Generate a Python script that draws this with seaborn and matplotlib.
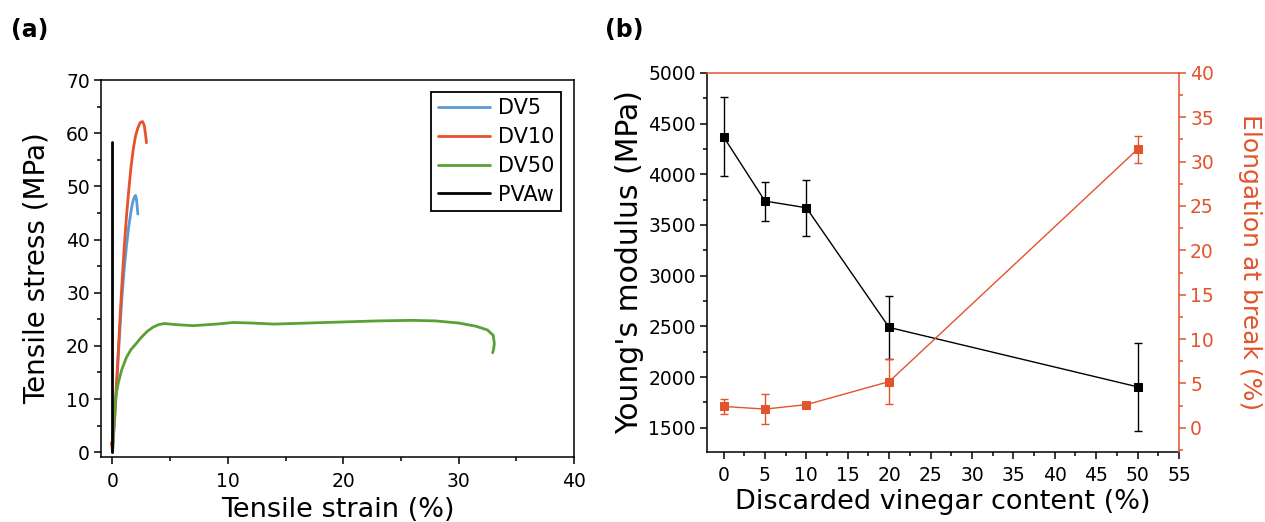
import numpy as np
import pandas as pd
import seaborn as sns
import matplotlib.pyplot as plt
from matplotlib.ticker import MultipleLocator

# ---------------- data: panel (a) stress-strain curves ----------------
dv5_strain = [0, 0.2, 0.4, 0.6, 0.8, 1.0, 1.2, 1.4, 1.6, 1.75, 1.9, 2.0, 2.08, 2.14, 2.2]
dv5_stress = [0, 6.5, 14, 21.5, 28.5, 34, 38.5, 42.3, 45.2, 47, 48, 48.3, 47.6, 46.2, 44.8]

dv10_strain = [-0.1, 0.0, 0.2, 0.4, 0.6, 0.8, 1.0, 1.2, 1.4, 1.6, 1.8, 2.0, 2.2, 2.4, 2.6, 2.75, 2.85, 2.95]
dv10_stress = [1.8, 0.3, 7, 15, 23, 31, 38, 44, 49, 53.5, 57, 59.5, 61, 62, 62.2, 61.5, 60, 58.2]

dv50_strain = [0, 0.1, 0.25, 0.5, 0.8, 1.2, 1.6, 2.0, 2.5, 3.0, 3.5, 4.0, 4.5, 5.5, 7, 9,
               10.5, 12, 14, 17, 20, 23, 26, 28, 30, 31.5, 32.5, 33.0, 33.1, 33.05, 32.95]
dv50_stress = [0, 5, 10, 13, 15.5, 17.8, 19.3, 20.3, 21.6, 22.7, 23.5, 24.0, 24.2, 24.0, 23.8, 24.1,
               24.4, 24.3, 24.1, 24.3, 24.5, 24.7, 24.8, 24.7, 24.3, 23.7, 23.0, 22.0, 20.5, 19.5, 18.7]

pvaw_strain = [0, 0]
pvaw_stress = [0, 58.3]

samples = ["DV5", "DV10", "DV50", "PVAw"]
colors = ["#5B9BD5", "#E4532B", "#5BA035", "#000000"]

# ---------------- data: panel (b) modulus / elongation ----------------
vinegar = [0, 5, 10, 20, 50]
modulus = [4370, 3736, 3670, 2489, 1903]
modulus_err = [390, 193, 277, 310, 435]
elongation = [2.4, 2.1, 2.6, 5.2, 31.4]
elongation_err = [0.8, 1.7, 0.3, 2.5, 1.5]

red = "#E2542C"

sns.set_theme(style="ticks")
plt.rcParams['font.family'] = ['DejaVu Sans']
for key in ['axes.edgecolor', 'xtick.color', 'ytick.color', 'text.color', 'axes.labelcolor']:
    plt.rcParams[key] = 'black'

fig = plt.figure(figsize=(12.65, 5.22), dpi=100)
axA = fig.add_axes([0.0798, 0.1245, 0.3739, 0.7222])
axB = fig.add_axes([0.5589, 0.1341, 0.3731, 0.7261])

# ---------- panel (a) ----------
frames = []
for name, sx, sy in zip(samples,
                        [dv5_strain, dv10_strain, dv50_strain, pvaw_strain],
                        [dv5_stress, dv10_stress, dv50_stress, pvaw_stress]):
    frames.append(pd.DataFrame({"strain": sx, "stress": sy, "sample": name}))
dfA = pd.concat(frames, ignore_index=True)

sns.lineplot(data=dfA, x="strain", y="stress", hue="sample", hue_order=samples,
             palette=dict(zip(samples, colors)), sort=False, estimator=None,
             linewidth=2.0, ax=axA)

axA.set_xlim(-1, 40)
axA.set_ylim(-0.9, 70)
axA.xaxis.set_major_locator(MultipleLocator(10))
axA.xaxis.set_minor_locator(MultipleLocator(5))
axA.yaxis.set_major_locator(MultipleLocator(10))
axA.yaxis.set_minor_locator(MultipleLocator(5))
axA.tick_params(which='major', direction='out', length=5, width=1.1, labelsize=13.5, pad=3)
axA.tick_params(axis='x', which='major', pad=6)
axA.tick_params(which='minor', direction='out', length=3, width=1.1)
for s in axA.spines.values():
    s.set_linewidth(1.1)
    s.set_color('black')
axA.set_xlabel("Tensile strain (%)", fontsize=19.5, labelpad=4)
axA.set_ylabel("Tensile stress (MPa)", fontsize=20, labelpad=11)

h, l = axA.get_legend_handles_labels()
leg = axA.legend(h, l, loc='upper right', bbox_to_anchor=(0.972, 0.968), fontsize=15,
                 frameon=True, fancybox=False, edgecolor='black', framealpha=1,
                 handlelength=2.5, labelspacing=0.42, borderpad=0.3, handletextpad=0.4,
                 borderaxespad=0)
leg.get_frame().set_linewidth(1.3)
for line in leg.get_lines():
    line.set_linewidth(2.0)

# ---------- panel (b) ----------
sns.lineplot(x=vinegar, y=modulus, ax=axB, color='black', marker='s', markersize=6,
             markeredgecolor='black', linewidth=1.0, zorder=3)
axB.errorbar(vinegar, modulus, yerr=modulus_err, fmt='none', ecolor='black',
             elinewidth=1.0, capsize=3, capthick=1.0, zorder=2)
axB.set_xlim(-2, 55)
axB.set_ylim(1260, 5000)
axB.xaxis.set_major_locator(MultipleLocator(5))
axB.xaxis.set_minor_locator(MultipleLocator(2.5))
axB.yaxis.set_major_locator(MultipleLocator(500))
axB.yaxis.set_minor_locator(MultipleLocator(250))
axB.tick_params(which='major', direction='out', length=5, width=1.1, labelsize=13.5, pad=3)
axB.tick_params(axis='x', which='major', pad=5)
axB.tick_params(which='minor', direction='out', length=3, width=1.1)
axB.set_xlabel("Discarded vinegar content (%)", fontsize=19.5, labelpad=3)
axB.set_ylabel("Young's modulus (MPa)", fontsize=21.5, labelpad=3)
for s in axB.spines.values():
    s.set_linewidth(1.1)
    s.set_color('black')
axB.spines['top'].set_visible(False)
axB.spines['right'].set_visible(False)

axR = axB.twinx()
sns.lineplot(x=vinegar, y=elongation, ax=axR, color=red, marker='s', markersize=6,
             markeredgecolor=red, linewidth=1.0, zorder=3)
axR.errorbar(vinegar, elongation, yerr=elongation_err, fmt='none', ecolor=red,
             elinewidth=1.0, capsize=3, capthick=1.0, zorder=2)
axR.set_ylim(-2.74, 40)
axR.yaxis.set_major_locator(MultipleLocator(5))
axR.yaxis.set_minor_locator(MultipleLocator(2.5))
axR.tick_params(axis='y', which='major', direction='out', length=5, width=1.1,
                labelsize=13.5, colors=red, pad=3)
axR.tick_params(axis='y', which='minor', direction='out', length=3, width=1.1, colors=red)
axR.spines['left'].set_visible(False)
axR.spines['bottom'].set_visible(False)
axR.spines['right'].set_color(red)
axR.spines['top'].set_color(red)
axR.spines['right'].set_linewidth(1.1)
axR.spines['top'].set_linewidth(1.1)
axR.set_ylabel("Elongation at break (%)", fontsize=18, color=red, rotation=270,
               va='bottom', labelpad=17)

fig.text(0.009, 0.943, "(a)", fontsize=17, fontweight='bold', ha='left', va='center')
fig.text(0.478, 0.943, "(b)", fontsize=17, fontweight='bold', ha='left', va='center')

fig.savefig("out.png", dpi=100)
